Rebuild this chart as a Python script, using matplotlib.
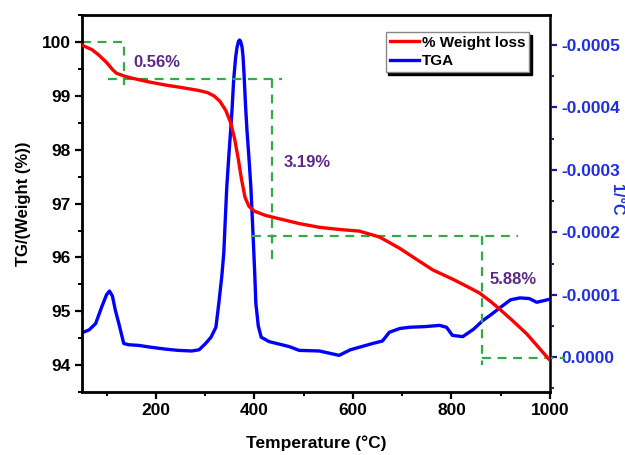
import numpy as np
import matplotlib.pyplot as plt
from matplotlib.ticker import MultipleLocator, FormatStrFormatter

plt.rcParams['font.family'] = ['Liberation Sans', 'DejaVu Sans']
plt.rcParams['font.weight'] = 'bold'
plt.rcParams['axes.unicode_minus'] = False

# weight loss curve (left axis)
t_wt = [50, 70, 84, 100, 112, 120, 135, 151, 185, 220, 255, 287, 305, 318,
        330, 342, 352, 360, 367, 374, 381, 389, 400, 423, 450, 491, 532,
        573, 613, 654, 695, 730, 762, 802, 830, 857, 880, 898, 925, 953,
        1000]
wt = [99.94, 99.86, 99.76, 99.62, 99.49, 99.42, 99.37, 99.33, 99.26, 99.2,
      99.15, 99.1, 99.06, 99.0, 98.9, 98.73, 98.5, 98.2, 97.85, 97.45,
      97.12, 96.95, 96.86, 96.78, 96.72, 96.63, 96.56, 96.52, 96.49, 96.38,
      96.17, 95.96, 95.77, 95.6, 95.47, 95.34, 95.18, 95.04, 94.82, 94.58,
      94.09]

# derivative curve (right axis, 1/°C)
t_dtg = [47, 65, 78, 90, 100, 106, 112, 118, 125, 135, 145, 165, 190, 220,
         245, 273, 288, 301, 312, 322, 328, 334, 338, 341, 344, 348, 352,
         355, 358, 362, 365, 368, 370, 372, 375, 377, 379, 382, 385, 389,
         393, 396, 399, 401, 403, 408, 414, 430, 471, 491, 532, 572, 595,
         613, 640, 660, 674, 695, 715, 745, 776, 790, 802, 823, 845, 864,
         880, 898, 920, 939, 958, 973, 1000]
dtg = [-0.000038, -0.000044, -0.000054, -0.00008, -0.0001, -0.000106,
       -0.000098, -0.000075, -0.000054, -0.000022, -0.00002, -0.000019,
       -0.000016, -0.000013, -0.000011, -0.00001, -0.000012, -0.000022,
       -0.000032, -0.000048, -0.000087, -0.00013, -0.000167, -0.00022,
       -0.000272, -0.00032, -0.000364, -0.0004, -0.000444, -0.00048,
       -0.000497, -0.000506, -0.000508, -0.000506, -0.000497, -0.000482,
       -0.000455, -0.000405, -0.000364, -0.00032, -0.000272, -0.00022,
       -0.000167, -0.00013, -0.000087, -0.00005, -0.000032, -0.000025,
       -0.000017, -0.000011, -0.00001, -0.000003, -0.000012, -0.000016,
       -0.000022, -0.000026, -0.00004, -0.000046, -0.000048, -0.000049,
       -0.000051, -0.000048, -0.000035, -0.000033, -0.000045, -0.000059,
       -0.000068, -0.000079, -0.000092, -0.000095, -0.000094, -0.000088,
       -0.000093]

# step guides (x list, y list) and labels
guides = [
    ([50, 135, 135], [100.0, 100.0, 99.2]),
    ([104, 456], [99.31, 99.31]),
    ([436, 436], [99.31, 95.98]),
    ([395, 935], [96.4, 96.4]),
    ([861, 861], [96.4, 94.0]),
    ([861, 1030], [94.13, 94.13]),
]
steps = ['0.56%', '3.19%', '5.88%']
step_pos = [(155, 99.61), (460, 97.77), (878, 95.6)]

fig, ax = plt.subplots(figsize=(6.25, 4.55), dpi=100)
fig.subplots_adjust(left=0.131, right=0.88, top=0.967, bottom=0.138)

l1, = ax.plot(t_wt, wt, color='red', lw=2.4, label='% Weight loss', zorder=3)
for gx, gy in guides:
    ax.plot(gx, gy, color='#33aa44', lw=1.6, ls=(0, (4, 3)), clip_on=False,
            zorder=2)
for s, (x, y) in zip(steps, step_pos):
    ax.text(x, y, s, color='#5b2a86', fontsize=12, fontweight='bold',
            va='center')

ax.set_xlim(50, 1000)
ax.set_ylim(93.5, 100.5)
ax.xaxis.set_major_locator(MultipleLocator(200))
ax.xaxis.set_minor_locator(MultipleLocator(100))
ax.yaxis.set_major_locator(MultipleLocator(1))
ax.yaxis.set_minor_locator(MultipleLocator(0.5))
ax.tick_params(which='major', length=5, width=1.6, labelsize=12.5, pad=3)
ax.tick_params(which='minor', length=3, width=1.4)
ax.set_xlabel('Temperature (°C)', fontsize=12.5, fontweight='bold',
              labelpad=12)
ax.set_ylabel('TG/(Weight (%))', fontsize=12, fontweight='bold', labelpad=8)
for sp in ['left', 'top', 'bottom']:
    ax.spines[sp].set_linewidth(2)

ax2 = ax.twinx()
l2, = ax2.plot(t_dtg, dtg, color='blue', lw=2.4, label='TGA', zorder=3)
ax2.set_ylim(0.000056, -0.000548)
ax2.yaxis.set_major_locator(MultipleLocator(0.0001))
ax2.yaxis.set_minor_locator(MultipleLocator(0.00005))
ax2.yaxis.set_major_formatter(FormatStrFormatter('%.4f'))
ax2.tick_params(which='major', length=5, width=1.6, labelsize=12.5,
                colors='#1a1aa0', labelcolor='#1f2fe0', pad=3)
ax2.tick_params(which='minor', length=3, width=1.4, colors='#1a1aa0')
ax2.spines['right'].set_color('#1a1a90')
ax2.spines['right'].set_linewidth(2)
fig.text(0.987, 0.562, '1/°C', color='#1f2fe0', fontsize=11.5,
         fontweight='bold', rotation=270, ha='center', va='center')

leg = ax.legend(handles=[l1, l2], loc='upper right',
                bbox_to_anchor=(0.955, 0.955), fontsize=11, frameon=True,
                fancybox=False, shadow={'color': 'black', 'alpha': 1},
                handlelength=1.9, handletextpad=0.2, borderpad=0.25,
                labelspacing=0.3, borderaxespad=0)
leg.get_frame().set_edgecolor('#888888')
leg.get_frame().set_linewidth(1)
leg.set_zorder(10)
ax.set_zorder(ax2.get_zorder() + 1)
ax.patch.set_visible(False)

plt.savefig('out.png')
